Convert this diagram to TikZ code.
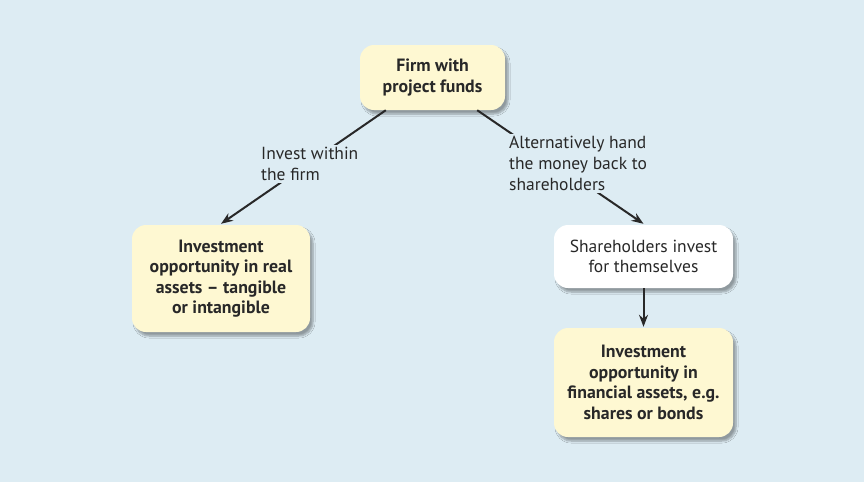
\documentclass[tikz,border=0pt]{standalone}
\usepackage{fontspec}
\setmainfont{PT Sans}
\usetikzlibrary{arrows.meta,calc,shadows.blur}
\definecolor{bg}{RGB}{221,236,243}
\definecolor{boxy}{RGB}{254,248,210}
\definecolor{ink}{RGB}{40,40,40}
\tikzset{
  box/.style={rounded corners=14pt, align=center, text=ink, inner sep=0pt,
    blur shadow={shadow xshift=3pt, shadow yshift=-4pt, shadow blur steps=6, shadow opacity=35},
    font=\fontsize{17.5}{20.5}\selectfont},
  ybox/.style={box, fill=boxy, font=\bfseries\fontsize{17.8}{20.5}\selectfont},
  wbox/.style={box, fill=white},
  conn/.style={draw=ink, line width=2pt},
  arr/.style={conn, -{Stealth[length=12pt,width=9pt]}},
  lbl/.style={fill=bg, text=ink, align=left, inner sep=2pt, anchor=north west,
    font=\fontsize{17.5}{21}\selectfont},
}
\begin{document}
\begin{tikzpicture}[x=1pt,y=-1pt]
\fill[bg] (0,0) rectangle (864,482);
\useasboundingbox (0,0) rectangle (864,482);
\node[ybox, minimum width=145pt, minimum height=65pt] (top) at (432.5,77.5) {Firm with\\project funds};
\node[ybox, minimum width=178pt, minimum height=107pt] (left) at (221,278.5) {Investment\\opportunity in real\\assets -- tangible\\or intangible};
\node[wbox, minimum width=179pt, minimum height=63pt] (sh) at (643.5,256.5) {Shareholders invest\\for themselves};
\node[ybox, minimum width=179pt, minimum height=109pt] (fin) at (643.5,382.5) {Investment\\opportunity in\\financial assets, e.g.\\shares or bonds};
\draw[arr] ([xshift=26pt]top.south west) -- ([yshift=1pt]left.north);
\draw[arr] ([xshift=-28pt]top.south east) -- ([yshift=1pt]sh.north);
\draw[arr] (sh.south) -- ([yshift=1pt]fin.north);
\node[lbl] (l1) at (259,145) {Invest within\\the firm};
\node[lbl] (l2) at (507,134) {Alternatively hand\\the money back to\\shareholders};
\end{tikzpicture}
\end{document}
